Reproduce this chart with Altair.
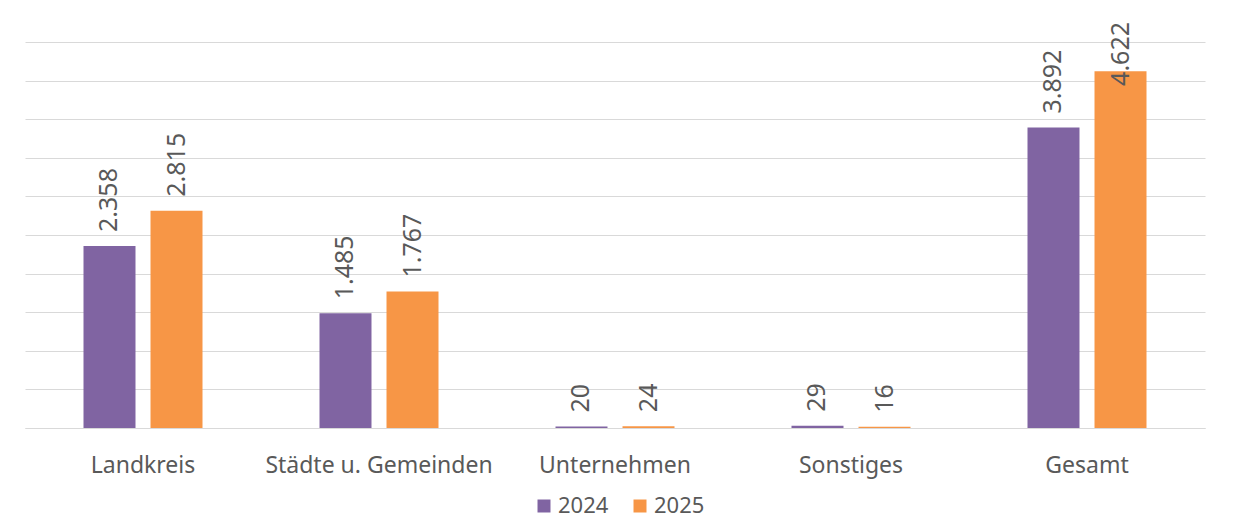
import altair as alt
import pandas as pd

categories = ["Landkreis", "Städte u. Gemeinden", "Unternehmen", "Sonstiges", "Gesamt"]
series = ["2024", "2025"]
values_2024 = [2358, 1485, 20, 29, 3892]
values_2025 = [2815, 1767, 24, 16, 4622]
colors = ["#8064A2", "#F79646"]

rows = []
for c, a, b in zip(categories, values_2024, values_2025):
    for s, v in zip(series, [a, b]):
        rows.append({"Kategorie": c, "Jahr": s, "Wert": v,
                     "Label": f"{v:,}".replace(",", ".")})
df = pd.DataFrame(rows)

FONT = "Noto Sans"
GRAY = "#595959"
yscale = alt.Scale(domain=[0, 5000], nice=False)
yaxis = alt.Axis(values=list(range(0, 5001, 500)), labels=False, title=None,
                 ticks=False, domain=False, grid=True,
                 gridColor="#d9d9d9", gridWidth=1)

x = alt.X("Kategorie:N", sort=categories, title=None,
          scale=alt.Scale(paddingInner=0, paddingOuter=0),
          axis=alt.Axis(labelAngle=0, labelFont=FONT, labelFontSize=23,
                        labelColor=GRAY, ticks=False, domainColor="#d9d9d9",
                        labelPadding=26, labelLimit=500, grid=False))
xo = alt.XOffset("Jahr:N", sort=series,
                 scale=alt.Scale(paddingInner=0.224, paddingOuter=0.873))

base = alt.Chart(df).encode(x=x, xOffset=xo)

bars = base.mark_bar().encode(
    y=alt.Y("Wert:Q", title=None, scale=yscale, axis=yaxis),
    color=alt.Color("Jahr:N", sort=series,
                    scale=alt.Scale(domain=series, range=colors),
                    legend=alt.Legend(orient="none", legendX=508, legendY=453,
                                      direction="horizontal",
                                      title=None, symbolType="square",
                                      symbolSize=169, symbolStrokeWidth=0,
                                      labelFont=FONT, labelFontSize=22,
                                      labelColor=GRAY, columnPadding=20,
                                      labelOffset=3)),
)

# Labels sit just above each bar; the tallest one is kept inside the chart area
labels = base.transform_calculate(
    labelY="min(datum.Wert, 4250)"
).mark_text(angle=270, align="left", baseline="middle", dx=14,
            font=FONT, fontSize=25, color=GRAY).encode(
    y=alt.Y("labelY:Q", title=None, scale=yscale, axis=yaxis),
    text="Label:N",
)

chart = alt.layer(bars, labels).properties(
    width=1180, height=386,
    padding={"left": 17, "top": 34, "right": 27, "bottom": 94},
    autosize=alt.AutoSizeParams(type="none"),
).configure_view(stroke=None)

chart.save("out.html", embed_options={"renderer": "svg", "actions": False})
